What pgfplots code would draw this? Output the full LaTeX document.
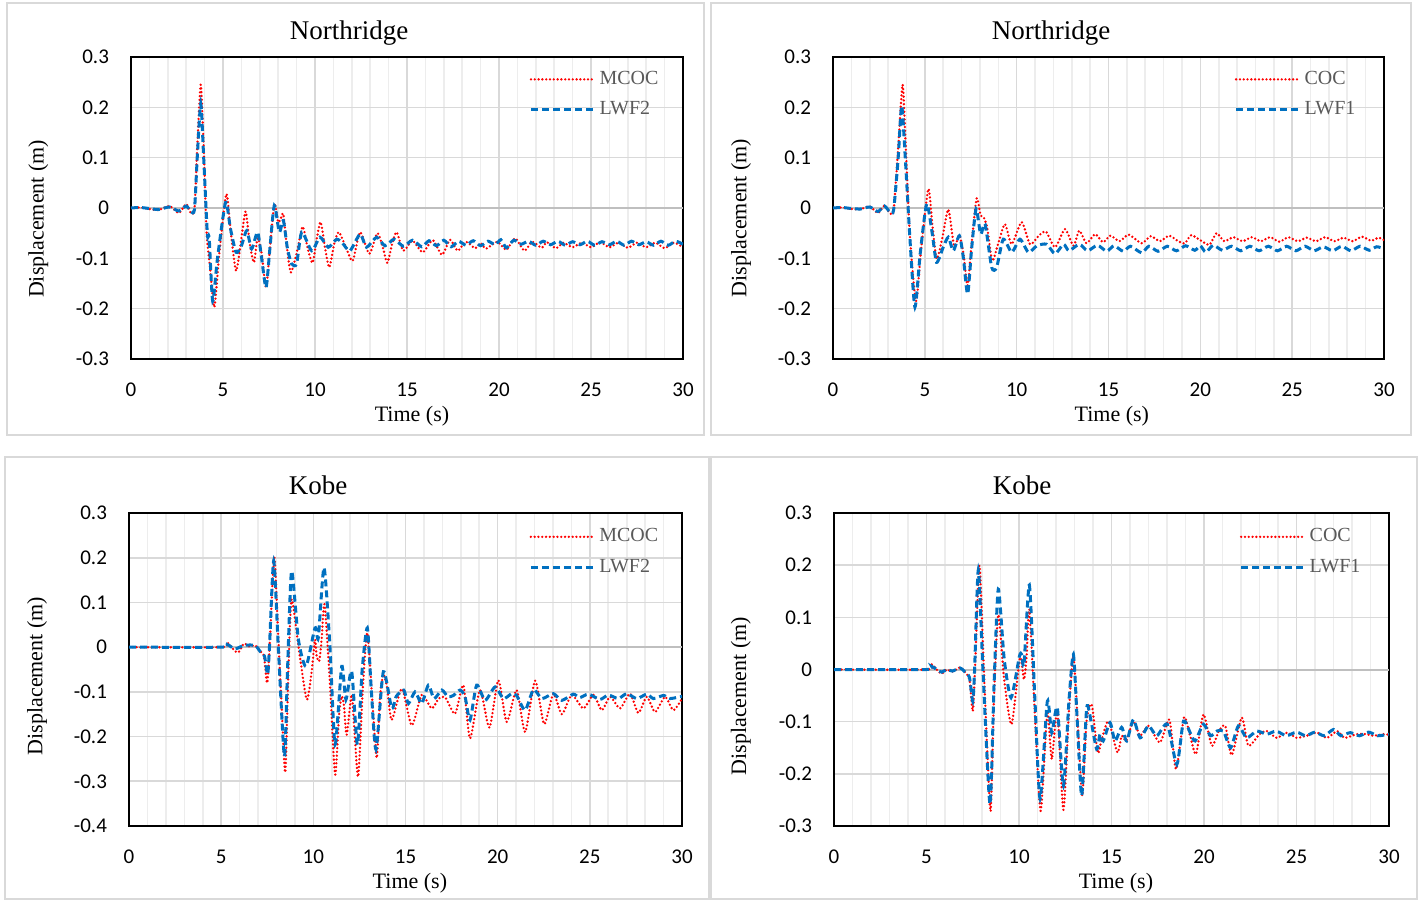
\documentclass[border=0pt]{standalone}
\usepackage{fontspec}
\setmainfont{Liberation Serif}
\newfontfamily\calibri{Carlito}
\usepackage{pgfplots}
\pgfplotsset{compat=1.18}

\definecolor{mred}{HTML}{FF0000}
\definecolor{mblue}{HTML}{0070C0}
\definecolor{gmaj}{HTML}{D9D9D9}
\definecolor{gmin}{HTML}{EDEDED}
\definecolor{gzero}{HTML}{BFBFBF}
\definecolor{lgray}{HTML}{595959}
\definecolor{framec}{HTML}{D9D9D9}

\pgfplotsset{
  quake/.style={
    scale only axis, anchor=south west,
    xmin=0, xmax=30, xtick={0,5,...,30}, minor x tick num=4,
    ymajorgrids, xmajorgrids, xminorgrids,
    major grid style={gmaj, line width=0.8pt},
    minor grid style={gmin, line width=0.8pt},
    major tick length=0pt, minor tick length=0pt,
    axis line style={black, line width=0.9pt},
    tick label style={font=\calibri\fontsize{10.5}{12}\selectfont},
    /pgf/number format/assume math mode=true,
    yticklabel style={/pgf/number format/fixed, /pgf/number format/precision=1, xshift=-7.5pt},
    xticklabel style={yshift=-8.5pt},
    extra y ticks={0}, extra y tick labels={},
    extra y tick style={major grid style={gzero, line width=1pt}},
    label style={font=\fontsize{11}{13}\selectfont},
    title style={font=\fontsize{13.5}{16}\selectfont, anchor=center, yshift=0pt},
    xlabel={Time (s)}, ylabel={Displacement (m)},
    legend style={draw=none, fill=none, anchor=west, inner sep=0pt, xshift=-0.5pt, yshift=-1pt,
      row sep=3pt, font=\fontsize{10}{12}\selectfont, text=lgray},
    legend cell align=left,
    legend image code/.code={\draw[#1] (0pt,0pt) -- (31.5pt,0pt);},
  },
  redline/.style={mred, line width=1.3pt, line cap=round, dash pattern=on 0pt off 1.9pt, smooth, tension=0.4},
  blueline/.style={mblue, line width=1.5pt, dash pattern=on 3.5pt off 2pt, smooth, tension=0.4},
}

\begin{document}
\begin{tikzpicture}
\path[use as bounding box] (0,0) rectangle (709pt,450pt);
% panel frames
\draw[framec, line width=1pt] (3.5pt,232.5pt) rectangle (352pt,448.5pt);
\draw[framec, line width=1pt] (355.5pt,232.5pt) rectangle (705.5pt,448.5pt);
\draw[framec, line width=1pt] (2.5pt,0.5pt) rectangle (354.5pt,221.5pt);
\draw[framec, line width=1pt] (355.5pt,0.5pt) rectangle (708.5pt,221.5pt);

% ---------------- Northridge, MCOC vs LWF2
\begin{axis}[quake, at={(65.5pt,270.5pt)}, width=276pt, height=151pt,
  ymin=-0.3, ymax=0.3, ytick={-0.3,-0.2,-0.1,0,0.1,0.2,0.3},
  title={Northridge}, title style={at={(axis description cs:0.395,1.040)}},
  xlabel style={at={(axis description cs:0.509,-0.188)}, anchor=center},
  ylabel style={at={(axis description cs:-0.168,0.464)}, anchor=center},
  legend style={at={(axis description cs:0.723,0.8825)}}]
\addplot[redline] coordinates {
(0,0) (0.5,0.001) (1.0,-0.002) (1.5,-0.004) (2.1,0.004) (2.6,-0.01) (3.0,0.008) (3.25,-0.01) (3.45,-0.002)
(3.6,0.12) (3.79,0.245) (3.95,0.12) (4.11,-0.048) (4.3,-0.12) (4.53,-0.197) (4.8,-0.09) (5.18,0.028)
(5.4,-0.04) (5.71,-0.125) (6.0,-0.06) (6.23,-0.007) (6.45,-0.07) (6.68,-0.108) (6.88,-0.06) (7.1,-0.09)
(7.34,-0.158) (7.55,-0.08) (7.79,0.008) (8.0,-0.028) (8.15,-0.02) (8.28,-0.012) (8.45,-0.07) (8.68,-0.128)
(9.0,-0.09) (9.33,-0.037) (9.6,-0.08) (9.87,-0.109) (10.1,-0.06) (10.31,-0.028) (10.55,-0.08) (10.78,-0.118)
(11.05,-0.07) (11.3,-0.048) (11.7,-0.08) (12.05,-0.105) (12.45,-0.048) (12.95,-0.091) (13.39,-0.05)
(13.7,-0.08) (13.93,-0.109) (14.2,-0.07) (14.44,-0.048) (14.8,-0.085) (15.3,-0.065) (15.85,-0.088)
(16.4,-0.064) (16.9,-0.093) (17.34,-0.063) (17.75,-0.085) (18.2,-0.067) (18.7,-0.08) (19.0,-0.07)
(19.3,-0.081) (19.9,-0.067) (20.4,-0.083) (20.87,-0.06) (21.38,-0.085) (21.8,-0.067) (22.32,-0.079)
(22.6,-0.068) (23.1,-0.08) (23.5,-0.069) (24.0,-0.078) (24.5,-0.069) (25.0,-0.078) (25.5,-0.068)
(26.0,-0.078) (26.5,-0.069) (27.0,-0.079) (27.5,-0.069) (28.0,-0.078) (28.5,-0.069) (29.0,-0.08)
(29.5,-0.069) (30,-0.078)};
\addlegendentry{MCOC}
\addplot[blueline] coordinates {
(0,0) (0.5,0.001) (1.0,-0.001) (1.5,-0.003) (2.1,0.002) (2.6,-0.006) (3.0,0.004) (3.25,-0.007) (3.45,-0.003)
(3.6,0.1) (3.79,0.207) (3.95,0.1) (4.15,-0.052) (4.25,-0.06) (4.44,-0.185) (4.7,-0.1) (5.14,0.011)
(5.4,-0.04) (5.71,-0.088) (6.0,-0.075) (6.29,-0.045) (6.56,-0.081) (6.88,-0.048) (7.1,-0.1) (7.34,-0.158)
(7.55,-0.08) (7.79,0.005) (8.06,-0.048) (8.28,-0.025) (8.5,-0.08) (8.73,-0.111) (9.0,-0.111) (9.28,-0.048)
(9.82,-0.085) (10.27,-0.058) (10.72,-0.078) (11.18,-0.062) (11.5,-0.07) (11.9,-0.085) (12.45,-0.052)
(12.8,-0.078) (13.35,-0.058) (13.8,-0.075) (14.3,-0.062) (14.8,-0.076) (15.3,-0.064) (15.8,-0.077)
(16.2,-0.065) (16.6,-0.075) (17.0,-0.064) (17.4,-0.077) (17.8,-0.066) (18.2,-0.074) (18.6,-0.065)
(19.0,-0.075) (19.4,-0.066) (19.8,-0.073) (20.1,-0.063) (20.4,-0.079) (20.8,-0.064) (21.2,-0.072)
(21.6,-0.066) (22.0,-0.074) (22.4,-0.066) (22.8,-0.073) (23.2,-0.066) (23.6,-0.074) (24.0,-0.067)
(24.4,-0.073) (24.8,-0.066) (25.2,-0.074) (25.6,-0.067) (26.0,-0.073) (26.4,-0.066) (26.8,-0.074)
(27.2,-0.066) (27.6,-0.073) (28.0,-0.067) (28.4,-0.074) (28.8,-0.066) (29.2,-0.074) (29.6,-0.066) (30,-0.072)};
\addlegendentry{LWF2}
\end{axis}

% ---------------- Northridge, COC vs LWF1
\begin{axis}[quake, at={(416.5pt,270.5pt)}, width=275.5pt, height=151pt,
  ymin=-0.3, ymax=0.3, ytick={-0.3,-0.2,-0.1,0,0.1,0.2,0.3},
  title={Northridge}, title style={at={(axis description cs:0.396,1.040)}},
  xlabel style={at={(axis description cs:0.506,-0.188)}, anchor=center},
  ylabel style={at={(axis description cs:-0.167,0.467)}, anchor=center},
  legend style={at={(axis description cs:0.730,0.8825)}}]
\addplot[redline] coordinates {
(0,0) (0.5,0.001) (1.0,-0.002) (1.5,-0.002) (2.0,0.003) (2.45,-0.01) (2.8,0.005) (3.1,-0.01) (3.3,-0.005)
(3.55,0.12) (3.79,0.245) (3.95,0.13) (4.19,-0.058) (4.52,-0.185) (4.8,-0.08) (5.19,0.038) (5.4,-0.03)
(5.64,-0.101) (5.95,-0.06) (6.28,-0.003) (6.59,-0.075) (6.88,-0.055) (7.1,-0.09) (7.33,-0.154) (7.55,-0.07)
(7.82,0.019) (8.04,-0.015) (8.2,-0.018) (8.4,-0.04) (8.67,-0.105) (9.0,-0.07) (9.36,-0.032) (9.73,-0.072)
(10.27,-0.028) (10.73,-0.072) (11.2,-0.055) (11.6,-0.047) (12.09,-0.078) (12.63,-0.042) (13.09,-0.075)
(13.41,-0.045) (13.8,-0.07) (14.27,-0.052) (14.7,-0.068) (15.1,-0.055) (15.6,-0.066) (16.1,-0.053)
(16.8,-0.07) (17.3,-0.056) (17.8,-0.066) (18.3,-0.055) (18.8,-0.066) (19.16,-0.07) (19.5,-0.054)
(20.0,-0.064) (20.5,-0.073) (20.88,-0.05) (21.3,-0.066) (21.8,-0.058) (22.3,-0.066) (22.8,-0.058)
(23.3,-0.066) (23.8,-0.058) (24.3,-0.067) (24.8,-0.058) (25.3,-0.066) (25.8,-0.059) (26.3,-0.066)
(26.8,-0.058) (27.3,-0.066) (27.8,-0.059) (28.3,-0.066) (28.8,-0.057) (29.3,-0.065) (29.7,-0.059) (30,-0.064)};
\addlegendentry{COC}
\addplot[blueline] coordinates {
(0,0) (0.5,0.001) (1.0,-0.001) (1.5,-0.002) (2.0,0.002) (2.45,-0.007) (2.8,0.004) (3.1,-0.008) (3.3,-0.004)
(3.55,0.1) (3.74,0.203) (3.95,0.09) (4.19,-0.062) (4.46,-0.197) (4.75,-0.09) (5.1,0.008) (5.4,-0.05)
(5.64,-0.108) (6.0,-0.078) (6.28,-0.058) (6.55,-0.085) (6.88,-0.055) (7.1,-0.1) (7.33,-0.171) (7.55,-0.08)
(7.79,-0.002) (8.04,-0.052) (8.28,-0.032) (8.64,-0.118) (8.91,-0.118) (9.27,-0.062) (9.73,-0.088)
(10.18,-0.062) (10.64,-0.088) (11.1,-0.075) (11.63,-0.072) (12.09,-0.091) (12.55,-0.072) (12.85,-0.085)
(13.41,-0.072) (13.86,-0.085) (14.4,-0.074) (14.9,-0.086) (15.3,-0.075) (15.8,-0.086) (16.2,-0.076)
(16.8,-0.089) (17.2,-0.076) (17.7,-0.086) (18.2,-0.076) (18.7,-0.085) (19.2,-0.075) (19.7,-0.084)
(20.0,-0.075) (20.3,-0.088) (20.7,-0.074) (21.2,-0.084) (21.7,-0.076) (22.2,-0.085) (22.7,-0.076)
(23.2,-0.085) (23.7,-0.076) (24.2,-0.085) (24.7,-0.076) (25.2,-0.085) (25.7,-0.076) (26.2,-0.085)
(26.7,-0.077) (27.2,-0.085) (27.7,-0.076) (28.2,-0.085) (28.7,-0.076) (29.2,-0.084) (29.6,-0.077) (30,-0.081)};
\addlegendentry{LWF1}
\end{axis}

% ---------------- Kobe, MCOC vs LWF2
\begin{axis}[quake, at={(64.5pt,37pt)}, width=276.5pt, height=156.5pt,
  ymin=-0.4, ymax=0.3, ytick={-0.4,-0.3,-0.2,-0.1,0,0.1,0.2,0.3},
  title={Kobe}, title style={at={(axis description cs:0.342,1.051)}},
  xlabel style={at={(axis description cs:0.508,-0.183)}, anchor=center},
  ylabel style={at={(axis description cs:-0.166,0.479)}, anchor=center},
  legend style={at={(axis description cs:0.725,0.882)}}]
\addplot[redline] coordinates {
(0,0) (5.0,0) (5.33,0.01) (5.75,-0.009) (5.95,-0.011) (6.24,0.008) (6.5,0.002) (6.84,0.004) (7.1,-0.009)
(7.32,-0.02) (7.5,-0.08) (7.65,0.02) (7.88,0.202) (8.1,0.02) (8.3,-0.15) (8.48,-0.28) (8.65,-0.05)
(8.82,0.107) (9.2,0.0) (9.64,-0.117) (9.91,-0.054) (10.09,0.017) (10.18,-0.02) (10.32,-0.031) (10.45,0.017)
(10.61,0.096) (10.9,-0.08) (11.18,-0.285) (11.4,-0.15) (11.54,-0.11) (11.66,-0.13) (11.81,-0.196)
(12.08,-0.106) (12.25,-0.2) (12.44,-0.289) (12.7,-0.08) (12.93,0.032) (13.2,-0.12) (13.44,-0.248)
(13.62,-0.11) (13.8,-0.061) (14.0,-0.09) (14.25,-0.163) (14.8,-0.093) (15.34,-0.175) (15.88,-0.107)
(16.42,-0.137) (16.8,-0.115) (17.15,-0.112) (17.69,-0.149) (18.14,-0.085) (18.5,-0.204) (19.04,-0.096)
(19.55,-0.18) (20.04,-0.074) (20.49,-0.167) (21.03,-0.096) (21.49,-0.19) (22.03,-0.075) (22.52,-0.172)
(23.02,-0.104) (23.48,-0.15) (24.02,-0.107) (24.65,-0.137) (25.2,-0.107) (25.65,-0.141) (26.1,-0.111)
(26.64,-0.137) (27.18,-0.104) (27.63,-0.147) (28.09,-0.111) (28.54,-0.145) (29.08,-0.111) (29.53,-0.141) (30,-0.115)};
\addlegendentry{MCOC}
\addplot[blueline] coordinates {
(0,0) (5.0,0) (5.33,0.006) (5.75,-0.004) (6.24,0.004) (6.84,0.004) (7.1,-0.009) (7.35,-0.02) (7.52,-0.061)
(7.62,0.0) (7.85,0.193) (8.1,0.0) (8.43,-0.244) (8.6,-0.05) (8.82,0.17) (9.19,0.017) (9.6,-0.043)
(10.09,0.043) (10.27,0.021) (10.58,0.178) (10.9,0.002) (11.18,-0.218) (11.54,-0.043) (11.77,-0.117)
(12.08,-0.054) (12.39,-0.218) (12.65,-0.05) (12.93,0.043) (13.15,-0.1) (13.4,-0.229) (13.8,-0.055)
(14.25,-0.137) (14.5,-0.11) (14.9,-0.096) (15.16,-0.126) (15.52,-0.1) (15.88,-0.126) (16.24,-0.085)
(16.55,-0.115) (16.97,-0.096) (17.3,-0.111) (17.6,-0.108) (17.96,-0.096) (18.23,-0.111) (18.5,-0.163)
(18.86,-0.085) (19.32,-0.119) (19.86,-0.089) (20.31,-0.115) (20.76,-0.104) (21.03,-0.108) (21.49,-0.141)
(21.94,-0.095) (22.4,-0.115) (23.02,-0.104) (23.48,-0.119) (24.1,-0.105) (24.45,-0.113) (24.92,-0.105)
(25.55,-0.117) (26.0,-0.107) (26.55,-0.115) (27.0,-0.104) (27.55,-0.115) (28.09,-0.105) (28.45,-0.115)
(29.0,-0.108) (29.35,-0.115) (30,-0.11)};
\addlegendentry{LWF2}
\end{axis}

% ---------------- Kobe, COC vs LWF1
\begin{axis}[quake, at={(417pt,37pt)}, width=277.5pt, height=156.5pt,
  ymin=-0.3, ymax=0.3, ytick={-0.3,-0.2,-0.1,0,0.1,0.2,0.3},
  title={Kobe}, title style={at={(axis description cs:0.339,1.051)}},
  xlabel style={at={(axis description cs:0.508,-0.183)}, anchor=center},
  ylabel style={at={(axis description cs:-0.168,0.415)}, anchor=center},
  legend style={at={(axis description cs:0.732,0.882)}}]
\addplot[redline] coordinates {
(0,0) (5.0,0) (5.28,0.01) (5.55,0.0) (5.82,-0.008) (6.1,0.0) (6.4,-0.004) (6.81,0.004) (7.03,-0.003)
(7.32,-0.019) (7.5,-0.08) (7.62,0.0) (7.86,0.199) (8.1,0.0) (8.3,-0.17) (8.47,-0.271) (8.65,-0.05)
(8.88,0.105) (9.2,-0.02) (9.6,-0.105) (10.05,0.022) (10.27,-0.019) (10.41,0.025) (10.56,0.115) (10.85,-0.08)
(11.17,-0.271) (11.53,-0.083) (11.77,-0.172) (12.07,-0.08) (12.4,-0.269) (12.7,-0.08) (12.94,0.025)
(13.2,-0.12) (13.42,-0.242) (13.65,-0.1) (13.93,-0.067) (14.25,-0.159) (14.45,-0.137) (14.83,-0.099)
(15.32,-0.159) (15.55,-0.127) (15.8,-0.137) (16.18,-0.099) (16.55,-0.127) (17.0,-0.108) (17.62,-0.14)
(18.13,-0.096) (18.49,-0.191) (18.92,-0.092) (19.25,-0.127) (19.57,-0.162) (19.97,-0.086) (20.42,-0.146)
(20.8,-0.118) (21.15,-0.108) (21.5,-0.164) (22.04,-0.092) (22.4,-0.146) (23.0,-0.124) (23.4,-0.118)
(23.93,-0.131) (24.5,-0.121) (25.0,-0.131) (25.55,-0.127) (26.1,-0.121) (26.65,-0.131) (27.2,-0.118)
(27.6,-0.131) (28.25,-0.124) (28.8,-0.124) (29.15,-0.127) (29.7,-0.124) (30,-0.125)};
\addlegendentry{COC}
\addplot[blueline] coordinates {
(0,0) (5.0,0) (5.28,0.006) (5.55,0.0) (5.82,-0.005) (6.1,0.0) (6.4,-0.003) (6.81,0.003) (7.03,-0.003)
(7.32,-0.015) (7.5,-0.061) (7.6,0.0) (7.8,0.191) (8.05,0.0) (8.43,-0.258) (8.65,-0.03) (8.88,0.154)
(9.2,0.02) (9.57,-0.054) (10.02,0.025) (10.14,0.029) (10.27,0.01) (10.56,0.162) (10.85,-0.05) (11.14,-0.248)
(11.53,-0.061) (11.77,-0.121) (12.07,-0.073) (12.4,-0.223) (12.7,-0.06) (12.94,0.029) (13.15,-0.1)
(13.39,-0.242) (13.66,-0.073) (13.9,-0.1) (14.2,-0.153) (14.38,-0.124) (14.55,-0.137) (14.92,-0.102)
(15.19,-0.137) (15.55,-0.111) (15.82,-0.137) (16.18,-0.096) (16.55,-0.131) (17.0,-0.108) (17.45,-0.127)
(18.02,-0.105) (18.53,-0.182) (18.89,-0.099) (19.25,-0.121) (19.52,-0.137) (19.97,-0.105) (20.35,-0.127)
(20.7,-0.118) (21.05,-0.118) (21.44,-0.15) (21.86,-0.108) (22.3,-0.131) (22.85,-0.118) (23.4,-0.124)
(23.9,-0.118) (24.45,-0.127) (25.0,-0.12) (25.5,-0.127) (26.0,-0.12) (26.5,-0.127) (27.0,-0.115)
(27.4,-0.127) (27.9,-0.121) (28.4,-0.127) (28.9,-0.12) (29.4,-0.127) (30,-0.124)};
\addlegendentry{LWF1}
\end{axis}
\end{tikzpicture}
\end{document}
